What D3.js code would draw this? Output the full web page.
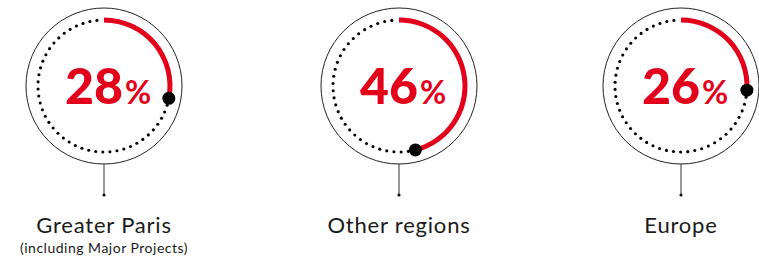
<!DOCTYPE html>
<html>
<head>
<meta charset="utf-8">
<script src="https://cdn.jsdelivr.net/npm/d3@7"></script>
<style>
  body { margin: 0; background: #fff; }
  svg { display: block; }
</style>
</head>
<body>
<svg id="chart"></svg>
<script>
var categories = ["Greater Paris", "Other regions", "Europe"];
var subtitles = ["(including Major Projects)", "", ""];
var shares = [28, 46, 26];

var width = 759, height = 257;
var red = "#e3001b";
var cy = 86, outerR = 78, ringR = 66;

var svg = d3.select("#chart")
  .attr("width", width)
  .attr("height", height);

var x = d3.scaleOrdinal()
  .domain(categories)
  .range([104, 399, 681]);

var angle = d3.scaleLinear()
  .domain([0, 100])
  .range([0, 2 * Math.PI]);

var arc = d3.arc()
  .innerRadius(ringR - 2.5)
  .outerRadius(ringR + 2.5)
  .startAngle(0);

var data = categories.map(function (c, i) {
  return { name: c, sub: subtitles[i], value: shares[i] };
});

var g = svg.selectAll("g.item")
  .data(data)
  .enter()
  .append("g")
  .attr("class", "item")
  .attr("transform", function (d) { return "translate(" + x(d.name) + "," + cy + ")"; });

// outer thin circle
g.append("circle")
  .attr("r", outerR)
  .attr("fill", "none")
  .attr("stroke", "#222")
  .attr("stroke-width", 1);

// connector line + small dot
g.append("line")
  .attr("x1", 0).attr("x2", 0)
  .attr("y1", outerR).attr("y2", outerR + 31)
  .attr("stroke", "#333")
  .attr("stroke-width", 1);
g.append("circle")
  .attr("cy", outerR + 31)
  .attr("r", 1.6)
  .attr("fill", "#111");

// dotted remainder
g.each(function (d) {
  var a0 = angle(d.value), a1 = 2 * Math.PI;
  var len = (a1 - a0) * ringR;
  var n = Math.floor(len / 7);
  var step = (a1 - a0) / n;
  var pts = d3.range(1, n).map(function (k) { return a0 + k * step; });
  d3.select(this).selectAll("circle.dot")
    .data(pts)
    .enter()
    .append("circle")
    .attr("class", "dot")
    .attr("cx", function (a) { return ringR * Math.sin(a); })
    .attr("cy", function (a) { return -ringR * Math.cos(a); })
    .attr("r", 1.55)
    .attr("fill", "#000");
});

// red arc
g.append("path")
  .attr("d", function (d) { return arc({ endAngle: angle(d.value) }); })
  .attr("fill", red);

// end marker
g.append("circle")
  .attr("cx", function (d) { return ringR * Math.sin(angle(d.value)); })
  .attr("cy", function (d) { return -ringR * Math.cos(angle(d.value)); })
  .attr("r", 6.5)
  .attr("fill", "#000");

// value text
var t = g.append("text")
  .attr("x", 4)
  .attr("y", 17.5)
  .attr("text-anchor", "middle")
  .attr("fill", red)
  .style("font-family", "Lato, sans-serif")
  .style("font-weight", 900);
t.append("tspan")
  .style("font-size", "50px")
  .text(function (d) { return d.value; });
t.append("tspan")
  .attr("dx", 2)
  .style("font-size", "32px")
  .style("font-weight", 700)
  .text("%");

// labels
g.append("text")
  .attr("y", 233 - cy)
  .attr("text-anchor", "middle")
  .attr("fill", "#1a1a1a")
  .style("font-family", "Lato, sans-serif")
  .style("font-weight", 400)
  .style("font-size", "22px")
  .style("letter-spacing", "0.8px")
  .text(function (d) { return d.name; });

g.append("text")
  .attr("y", 253 - cy)
  .attr("text-anchor", "middle")
  .attr("fill", "#1a1a1a")
  .style("font-family", "Lato, sans-serif")
  .style("font-weight", 400)
  .style("font-size", "14px")
  .style("letter-spacing", "0.5px")
  .text(function (d) { return d.sub; });
</script>
</body>
</html>
